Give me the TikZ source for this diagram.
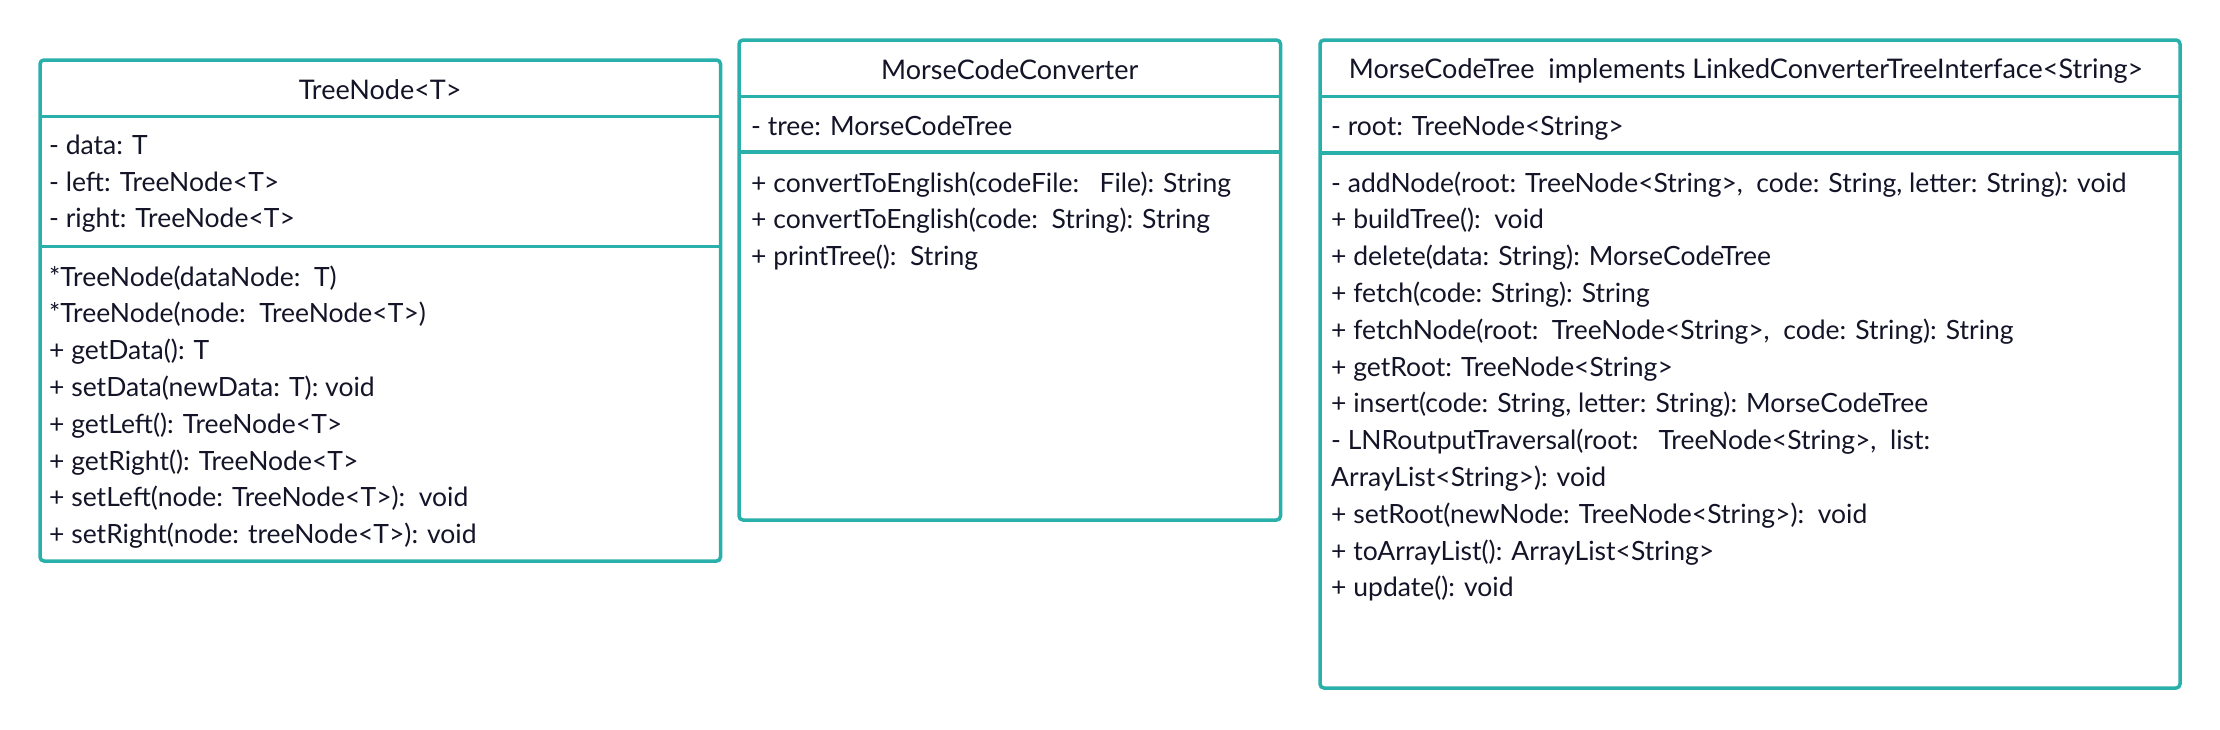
\documentclass[tikz,border=0pt]{standalone}
\usepackage{fontspec}
\setmainfont{Lato}
\definecolor{teal1}{HTML}{2AB0AA}
\definecolor{txt}{HTML}{141428}
\tikzset{
  umlbox/.style={draw=teal1, line width=3.5pt, rounded corners=4pt},
  umldiv/.style={draw=teal1, line width=3.5pt},
  entry/.style={anchor=base west, inner sep=0pt, text=txt, font=\fontsize{26.5}{31}\selectfont},
  title/.style={anchor=base, inner sep=0pt, text=txt, font=\fontsize{27}{32}\selectfont},
}
\begin{document}
\begin{tikzpicture}[x=1pt,y=-1pt]
\useasboundingbox (0,0) rectangle (2220,729);
\fill[white] (0,0) rectangle (2220,729);
% ---------- TreeNode ----------
\draw[umlbox] (40,60) rectangle (720.5,561);
\draw[umldiv] (40,116.5) -- (720.5,116.5);
\draw[umldiv] (40,246.5) -- (720.5,246.5);
\node[title] (tn-title) at (380.25,99) {TreeNode<T>};
\foreach \t [count=\i from 0] in {{- data: T},{- left: TreeNode<T>},{- right: TreeNode<T>}}
  \node[entry] (tn-a\i) at (49,154.3+\i*36.8) {\t};
\foreach \t [count=\i from 0] in {{*TreeNode(dataNode:\ \ T)},{*TreeNode(node:\ \ TreeNode<T>)},{+ getData(): T},{+ setData(newData: T): void},{+ getLeft(): TreeNode<T>},{+ getRight(): TreeNode<T>},{+ setLeft(node: TreeNode<T>):\ \ void},{+ setRight(node: treeNode<T>): void}}
  \node[entry] (tn-m\i) at (49,286+\i*36.8) {\t};
% ---------- MorseCodeConverter ----------
\draw[umlbox] (739,40) rectangle (1280.5,520);
\draw[umldiv] (739,96.5) -- (1280.5,96.5);
\draw[umldiv] (739,152) -- (1280.5,152);
\node[title] (mcc-title) at (1009.75,79.3) {MorseCodeConverter};
\node[entry] (mcc-a0) at (751,135) {- tree: MorseCodeTree};
\foreach \t [count=\i from 0] in {{+ convertToEnglish(codeFile:\ \ \ File): String},{+ convertToEnglish(code:\ \ String): String},{+ printTree():\ \ String}}
  \node[entry] (mcc-m\i) at (751,192+\i*36.8) {\t};
% ---------- MorseCodeTree ----------
\draw[umlbox] (1320,40) rectangle (2180,688);
\draw[umldiv] (1320,96.5) -- (2180,96.5);
\draw[umldiv] (1320,153) -- (2180,153);
\node[title] (mct-title) at (1746,78.5) {MorseCodeTree\ \ implements LinkedConverterTreeInterface<String>};
\node[entry] (mct-a0) at (1331,135) {- root: TreeNode<String>};
\foreach \t [count=\i from 0] in {{- addNode(root: TreeNode<String>,\ \ code: String, letter: String): void},{+ buildTree():\ \ void},{+ delete(data: String): MorseCodeTree},{+ fetch(code: String): String},{+ fetchNode(root:\ \ TreeNode<String>,\ \ code: String): String},{+ getRoot: TreeNode<String>},{+ insert(code: String, letter: String): MorseCodeTree},{- LNRoutputTraversal(root:\ \ \ TreeNode<String>,\ \ list:},{ArrayList<String>): void},{+ setRoot(newNode: TreeNode<String>):\ \ void},{+ toArrayList(): ArrayList<String>},{+ update(): void}}
  \node[entry] (mct-m\i) at (1331,192+\i*36.8) {\t};
\end{tikzpicture}
\end{document}
